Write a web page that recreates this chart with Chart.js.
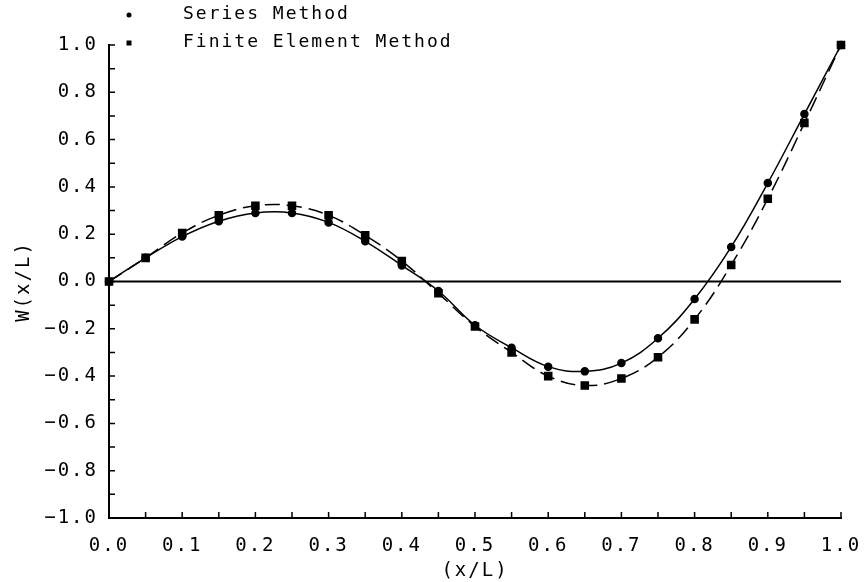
<!DOCTYPE html>
<html>
<head>
<meta charset="utf-8">
<script src="https://cdn.jsdelivr.net/npm/chart.js@4.4.1/dist/chart.umd.min.js"></script>
<style>
  html, body { margin: 0; padding: 0; background: #fff; }
  #wrap { width: 864px; height: 582px; }
</style>
</head>
<body>
<div id="wrap"><canvas id="plot"></canvas></div>
<script>
// x/L stations, both methods sampled at the same points
const xValues = [0.00, 0.05, 0.10, 0.15, 0.20, 0.25, 0.30, 0.35, 0.40, 0.45, 0.50,
                 0.55, 0.60, 0.65, 0.70, 0.75, 0.80, 0.85, 0.90, 0.95, 1.00];
const seriesMethod = [0.00, 0.10, 0.19, 0.255, 0.29, 0.29, 0.25, 0.17, 0.068, -0.04, -0.185,
                      -0.28, -0.36, -0.38, -0.345, -0.24, -0.074, 0.146, 0.416, 0.708, 1.00];
const finiteElement = [0.00, 0.10, 0.205, 0.28, 0.32, 0.32, 0.28, 0.195, 0.087, -0.05, -0.19,
                       -0.30, -0.40, -0.44, -0.41, -0.32, -0.16, 0.07, 0.35, 0.67, 1.00];

const xTicks = [0.0, 0.1, 0.2, 0.3, 0.4, 0.5, 0.6, 0.7, 0.8, 0.9, 1.0];
const yTicks = [-1.0, -0.8, -0.6, -0.4, -0.2, 0.0, 0.2, 0.4, 0.6, 0.8, 1.0];

const FONT = 'DejaVu Sans Mono';
const SPACING = '2px';

const fmt = v => v.toFixed(1).replace('-', '\u2212');

const decor = {
    id: 'decor',
    beforeLayout(chart) { chart.ctx.letterSpacing = SPACING; },
    beforeDraw(chart) { chart.ctx.letterSpacing = SPACING; },
    afterDatasetsDraw(chart) {
        const { ctx, scales: { x, y } } = chart;
        ctx.save();
        ctx.strokeStyle = '#000';
        // zero line
        ctx.lineWidth = 2;
        ctx.beginPath();
        ctx.moveTo(x.getPixelForValue(0), y.getPixelForValue(0));
        ctx.lineTo(x.getPixelForValue(1), y.getPixelForValue(0));
        ctx.stroke();
        // inward tick marks
        ctx.lineWidth = 1.5;
        ctx.beginPath();
        for (let i = -10; i <= 10; i++) {
            const py = y.getPixelForValue(i / 10);
            ctx.moveTo(x.left, py); ctx.lineTo(x.left + 6, py);
        }
        for (let i = 0; i <= 20; i++) {
            const px = x.getPixelForValue(i / 20);
            ctx.moveTo(px, y.bottom); ctx.lineTo(px, y.bottom - 6);
        }
        ctx.stroke();
        ctx.restore();
    },
    afterDraw(chart) {
        const { ctx } = chart;
        ctx.save();
        ctx.letterSpacing = SPACING;
        ctx.fillStyle = '#000';
        ctx.font = `18px "${FONT}"`;
        ctx.textBaseline = 'middle';
        ctx.textAlign = 'left';
        const ds = chart.data.datasets;
        ctx.beginPath(); ctx.arc(129, 15, 2.5, 0, Math.PI * 2); ctx.fill();
        ctx.fillText(ds[0].label, 183, 14);
        ctx.fillRect(126.5, 40.5, 5, 5);
        ctx.fillText(ds[1].label, 183, 42);
        ctx.restore();
    }
};

new Chart(document.getElementById('plot'), {
    type: 'line',
    data: {
        datasets: [
            {
                label: 'Series Method',
                data: xValues.map((x, i) => ({ x, y: seriesMethod[i] })),
                borderColor: '#000', backgroundColor: '#000', borderWidth: 1.5,
                pointStyle: 'circle', pointRadius: 3.5, tension: 0.4, clip: false,
            },
            {
                label: 'Finite Element Method',
                data: xValues.map((x, i) => ({ x, y: finiteElement[i] })),
                borderColor: '#000', backgroundColor: '#000', borderWidth: 1.5, borderDash: [15, 7],
                pointStyle: 'rect', pointRadius: 5, tension: 0.4, clip: false,
            },
        ],
    },
    options: {
        animation: false, responsive: true, maintainAspectRatio: false,
        layout: { padding: { top: 45, right: 23, left: 0, bottom: 0 } },
        plugins: { legend: { display: false }, tooltip: { enabled: false } },
        scales: {
            x: {
                type: 'linear', min: 0, max: 1,
                afterBuildTicks: s => { s.ticks = xTicks.map(value => ({ value })); },
                afterFit: s => { s.height = 64; s.paddingLeft = 0; s.paddingRight = 0; },
                grid: { display: false },
                border: { display: true, color: '#000', width: 2 },
                ticks: { color: '#000', padding: 9, maxRotation: 0, autoSkip: false,
                         font: { family: FONT, size: 19 }, callback: v => fmt(v) },
                title: { display: true, text: '(x/L)', color: '#000', padding: { top: 0, bottom: 0 },
                         font: { family: FONT, size: 19 } },
            },
            y: {
                type: 'linear', min: -1, max: 1,
                afterBuildTicks: s => { s.ticks = yTicks.map(value => ({ value })); },
                afterFit: s => { s.width = 109; s.paddingTop = 0; s.paddingBottom = 0; },
                grid: { display: false },
                border: { display: true, color: '#000', width: 2 },
                ticks: { color: '#000', padding: 3, autoSkip: false,
                         font: { family: FONT, size: 19 }, callback: v => fmt(v) },
                title: { display: true, text: 'W(x/L)', color: '#000', padding: { top: 13, bottom: 0 },
                         font: { family: FONT, size: 19 } },
            },
        },
    },
    plugins: [decor],
});
</script>
</body>
</html>
